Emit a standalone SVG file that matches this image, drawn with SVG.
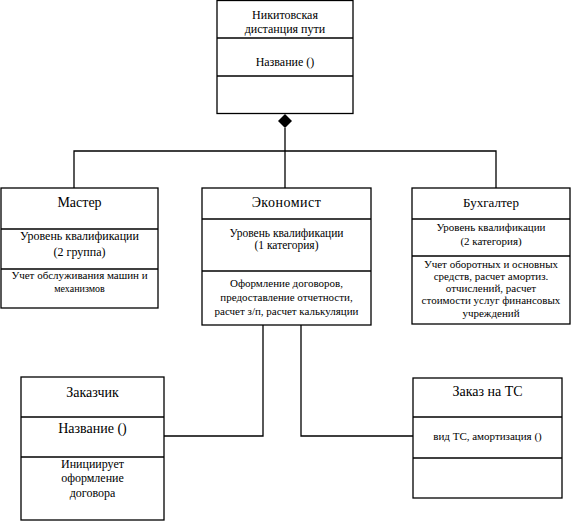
<svg xmlns="http://www.w3.org/2000/svg" width="574" height="523" viewBox="0 0 574 523">
<style>
.box{fill:#fff;stroke:#000;stroke-width:1.3}
.sep{stroke:#000;stroke-width:1.3}
.c{stroke:#000;stroke-width:1.3;fill:none}
text{font-family:"Liberation Serif","Times New Roman",serif;fill:#000;text-anchor:middle}
.t14{font-size:14px}
.t13{font-size:13px}
.t12{font-size:12px}
.t11{font-size:11px}
.t10{font-size:10px}
</style>
<rect width="574" height="523" fill="#fff"/>
<g id="connectors">
<polyline class="c" points="285,128 285,188"/>
<polyline class="c" points="74,188 74,151 496,151 496,188"/>
<polygon points="285,114 292,121 285,128 278,121" fill="#000"/>
<polyline class="c" points="263,325 263,436 164,436"/>
<polyline class="c" points="301,325 301,436 413,436"/>
</g>
<g id="nikitovskaya">
<rect class="box" x="217" y="0.5" width="136" height="113"/>
<line class="sep" x1="217" y1="38" x2="353" y2="38"/>
<line class="sep" x1="217" y1="76" x2="353" y2="76"/>
<text class="t12" x="285" y="19">Никитовская</text>
<text class="t12" x="285" y="33">дистанция пути</text>
<text class="t12" x="285" y="66">Название ()</text>
</g>
<g id="master">
<rect class="box" x="1" y="188" width="157" height="120"/>
<line class="sep" x1="1" y1="229" x2="158" y2="229"/>
<line class="sep" x1="1" y1="269" x2="158" y2="269"/>
<text class="t14" x="79.5" y="207">Мастер</text>
<text class="t12" x="79.5" y="240">Уровень квалификации</text>
<text class="t12" x="79.5" y="256">(2 группа)</text>
<text class="t11" x="79.5" y="279">Учет обслуживания машин и</text>
<text class="t10" x="79.5" y="292">механизмов</text>
</g>
<g id="economist">
<rect class="box" x="202" y="188" width="169" height="137"/>
<line class="sep" x1="202" y1="219" x2="371" y2="219"/>
<line class="sep" x1="202" y1="271" x2="371" y2="271"/>
<text class="t14" x="286.5" y="207" letter-spacing="0.5">Экономист</text>
<text x="286.5" y="237" font-size="11.5">Уровень квалификации</text>
<text x="286.5" y="249" font-size="11.5">(1 категория)</text>
<text class="t11" x="286.5" y="287">Оформление договоров,</text>
<text class="t11" x="286.5" y="301">предоставление отчетности,</text>
<text class="t11" x="286.5" y="315">расчет з/п, расчет калькуляции</text>
</g>
<g id="buhgalter">
<rect class="box" x="412" y="188" width="158" height="136"/>
<line class="sep" x1="412" y1="219" x2="570" y2="219"/>
<line class="sep" x1="412" y1="256" x2="570" y2="256"/>
<text class="t13" x="491" y="207">Бухгалтер</text>
<text class="t11" x="491" y="231">Уровень квалификации</text>
<text class="t11" x="491" y="245">(2 категория)</text>
<text class="t11" x="491" y="268">Учет оборотных и основных</text>
<text class="t11" x="491" y="280">средств, расчет амортиз.</text>
<text class="t11" x="491" y="292">отчислений, расчет</text>
<text class="t11" x="491" y="304">стоимости услуг финансовых</text>
<text class="t11" x="491" y="317">учреждений</text>
</g>
<g id="zakazchik">
<rect class="box" x="21" y="377" width="143" height="143"/>
<line class="sep" x1="21" y1="417" x2="164" y2="417"/>
<line class="sep" x1="21" y1="457" x2="164" y2="457"/>
<text class="t14" x="92.5" y="397">Заказчик</text>
<text class="t14" x="92.5" y="433">Название ()</text>
<text class="t12" x="92.5" y="468">Инициирует</text>
<text class="t12" x="92.5" y="482">оформление</text>
<text class="t12" x="92.5" y="497">договора</text>
</g>
<g id="zakaz-ts">
<rect class="box" x="413" y="378" width="149" height="120"/>
<line class="sep" x1="413" y1="417" x2="562" y2="417"/>
<line class="sep" x1="413" y1="458" x2="562" y2="458"/>
<text class="t14" x="487.5" y="396">Заказ на ТС</text>
<text class="t11" x="487.5" y="440">вид ТС, амортизация ()</text>
</g>
</svg>
